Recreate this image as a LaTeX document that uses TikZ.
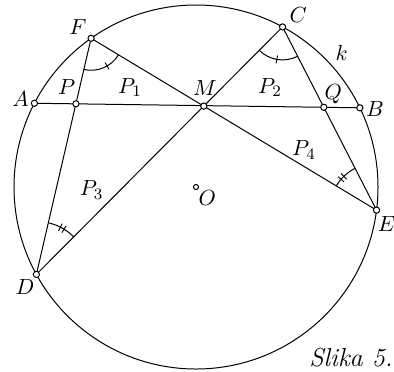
\documentclass[tikz,border=0pt]{standalone}
\usepackage{amsmath,amssymb}
\usepackage{tikz}
\usetikzlibrary{calc}
\tikzset{
  odot/.style  = {circle, draw, fill=white, inner sep=1.1pt},
  lbl/.style   = {font=\fontsize{11}{13}\selectfont},
  tick/.style  = {line width=0.45pt},
}

\begin{document}
\begin{tikzpicture}[x=0.5pt,y=0.5pt,line width=0.5pt]
  \useasboundingbox (-196,-184) rectangle (198,187);
  \coordinate (O) at (0,0);
  \coordinate (A) at (152.6:182);
  \coordinate (B) at (25.8:182);
  \coordinate (F) at (125.2:182);
  \coordinate (C) at (61.6:182);
  \coordinate (E) at (-7.3:182);
  \coordinate (D) at (208.7:182);
  \coordinate (M) at (intersection of C--D and E--F);
  \coordinate (P) at (intersection of A--B and F--D);
  \coordinate (Q) at (intersection of A--B and C--E);
  \draw (O) circle[radius=182];
  \draw (A) -- (B);
  \draw (F) -- (D) -- (C) -- (E) -- (F);
  % equal angles at F and C
  \draw ($(F)+(257:32)$) arc[start angle=257, end angle=329, radius=32];
  \draw[tick] ($(F)+(300:28)$) -- ($(F)+(300:36)$);
  \draw ($(C)+(225.1:33)$) arc[start angle=225.1, end angle=297.1, radius=33];
  \draw[tick] ($(C)+(260:29)$) -- ($(C)+(260:37)$);
  % equal angles at D and E
  \draw ($(D)+(45.1:53)$) arc[start angle=45.1, end angle=77, radius=53];
  \draw[tick] ($(D)+(58.5:49)$) -- ($(D)+(58.5:57)$);
  \draw[tick] ($(D)+(63:49)$) -- ($(D)+(63:57)$);
  \draw ($(E)+(117.1:47)$) arc[start angle=117.1, end angle=148.95, radius=47];
  \draw[tick] ($(E)+(134:43)$) -- ($(E)+(134:51)$);
  \draw[tick] ($(E)+(139:43)$) -- ($(E)+(139:51)$);
  % points
  \foreach \p in {A,B,C,D,E,F,M,P,Q}
    \node[odot] (d\p) at (\p) {};
  \node[odot, inner sep=0.9pt] (dO) at (O) {};
  % labels
  \node[lbl] (lF) at (-118,160) {$F$};
  \node[lbl] (lA) at (-175.3,88.3) {$A$};
  \node[lbl] (lP) at (-129.3,99.7) {$P$};
  \node[lbl] (lP1) at (-66,99.7) {$P_1$};
  \node[lbl] (lM) at (9,98.7) {$M$};
  \node[lbl] (lP2) at (74,99.7) {$P_2$};
  \node[lbl] (lQ) at (137.3,93) {$Q$};
  \node[lbl] (lB) at (179,78) {$B$};
  \node[lbl] (lC) at (102.3,172) {$C$};
  \node[lbl] (lk) at (145.7,133.7) {$k$};
  \node[lbl] (lP3) at (-104.3,-3) {$P_3$};
  \node[lbl] (lD) at (-171,-99.7) {$D$};
  \node[lbl] (lO) at (11.3,-11.3) {$O$};
  \node[lbl] (lP4) at (108,37) {$P_4$};
  \node[lbl] (lE) at (190.7,-37.3) {$E$};
  \node[font=\fontsize{13}{15}\selectfont\itshape] (cap) at (155,-171) {Slika 5.};
\end{tikzpicture}
\end{document}
